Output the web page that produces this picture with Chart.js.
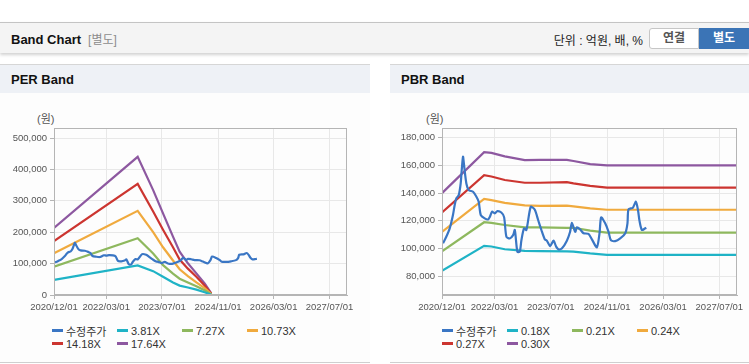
<!DOCTYPE html>
<html lang="ko">
<head>
<meta charset="UTF-8">
<title>Band Chart</title>
<script src="https://cdn.jsdelivr.net/npm/chart.js"></script>
<style>
    * { box-sizing: border-box; }
    body {
        margin: 0; width: 749px; height: 364px; overflow: hidden; background: #fff; position: relative;
        font-family: "Liberation Sans", "Noto Sans CJK KR", sans-serif; color: #333;
    }
    .topbar {
        position: absolute; left: 0; top: 22px; width: 749px; height: 31px; background: #f4f4f4;
        border-top: 1px solid #c4c4c4; box-shadow: 0 2px 3px rgba(0,0,0,0.18);
    }
    .topbar .title { position: absolute; left: 11px; top: 7px; font-weight: bold; font-size: 13px; color: #111; }
    .topbar .sub { color: #8c8c8c; font-weight: normal; font-size: 12px; margin-left: 7px; }
    .unit { position: absolute; right: 106px; top: 8px; font-size: 12px; color: #222; }
    .btn { position: absolute; top: 5px; height: 21px; width: 50px; font-size: 12px; font-weight: bold; text-align: center; line-height: 19px; }
    .btn.off { left: 649px; background: #fff; border: 1px solid #c6c6c6; color: #555; border-radius: 3px 0 0 3px; }
    .btn.on { left: 699px; background: #3b74b6; border: 1px solid #3b74b6; color: #fff; }
    .panel {
        position: absolute; top: 64px; height: 299px; background: #fdfdfd;
        border-top: 1px solid #d6d6d6; border-bottom: 1px solid #cfcfcf;
    }
    .panel .head { height: 28px; background: #eef1f6; font-weight: bold; font-size: 13px; color: #111; padding: 7px 0 0 11px; }
    .unitlabel { position: absolute; top: 45px; font-size: 11px; color: #555; }
    .chartbox { position: absolute; left: 0; top: 28px; }
    .legend {
        position: absolute; left: 52px; top: 259px; display: grid;
        grid-template-columns: 65px 65px 65px 65px; grid-auto-rows: 13px; font-size: 11px; color: #333;
    }
    .legend .item { display: flex; align-items: center; white-space: nowrap; }
    .legend .mark { width: 11px; height: 3px; margin-right: 3px; }
</style>
</head>
<body>

<div class="topbar">
    <div class="title">Band Chart<span class="sub">[별도]</span></div>
    <div class="unit">단위 : 억원, 배, %</div>
    <div class="btn off">연결</div>
    <div class="btn on">별도</div>
</div>

<div class="panel" style="left:0; width:370px;">
    <div class="head">PER Band</div>
    <div class="unitlabel" style="left:37px;">(원)</div>
    <div class="chartbox"><canvas id="perChart" width="370" height="227"></canvas></div>
    <div class="legend" id="perLegend"></div>
</div>

<div class="panel" style="left:390px; width:359px;">
    <div class="head">PBR Band</div>
    <div class="unitlabel" style="left:36px;">(원)</div>
    <div class="chartbox"><canvas id="pbrChart" width="359" height="227"></canvas></div>
    <div class="legend" id="pbrLegend"></div>
</div>

<script>
// eje x (fechas)
const xStart = '2020-12-01';
const xEnd = '2027-12-01';
const tickDates = ['2020-12-01', '2022-03-01', '2023-07-01', '2024-11-01', '2026-03-01', '2027-07-01'];
const tickLabels = ['2020/12/01', '2022/03/01', '2023/07/01', '2024/11/01', '2026/03/01', '2027/07/01'];

// 수정주가
const priceDates = ['2020-12-10','2021-01-07','2021-02-06','2021-03-06','2021-03-21','2021-04-04','2021-04-25','2021-05-12','2021-05-21','2021-06-01',
    '2021-06-10','2021-06-30','2021-07-21','2021-08-27','2021-09-25','2021-10-15','2021-11-02','2021-12-06','2022-01-04','2022-01-19',
    '2022-02-08','2022-03-03','2022-03-26','2022-04-29','2022-05-23','2022-06-12','2022-07-11','2022-08-09','2022-08-24','2022-09-15',
    '2022-10-06','2022-10-20','2022-11-12','2022-12-02','2023-01-09','2023-02-13','2023-03-14','2023-04-11','2023-05-11','2023-05-28',
    '2023-06-26','2023-07-25','2023-08-17','2023-09-06','2023-10-05','2023-11-18','2023-12-16','2023-12-31','2024-01-29','2024-02-13',
    '2024-03-12','2024-04-10','2024-05-23','2024-06-22','2024-08-04','2024-08-27','2024-09-10','2024-10-15','2024-11-13','2024-12-03',
    '2025-01-10','2025-02-22','2025-04-07','2025-04-26','2025-05-05','2025-06-12','2025-07-08','2025-07-26','2025-08-09','2025-08-29',
    '2025-09-27','2025-10-06'];
const priceValues = [103800,108500,114600,124200,131400,136200,138600,147100,156700,166300,
    160300,147000,142200,141000,137400,133800,124200,121800,121000,122700,
    126600,125400,127000,126000,122700,108500,107300,109700,113400,97700,
    97700,106000,114600,113400,130200,128000,120600,113400,106600,105700,
    101800,105700,101400,99400,100000,105700,112100,118600,112100,115300,
    113800,111100,110600,106600,100900,111100,122500,118200,112100,106100,
    105400,107300,111100,118200,128300,129500,133800,127800,119600,113400,
    114600,115000];

// PER 밴드
const perBandDates = ['2020-12-01','2022-12-01','2023-04-15','2023-07-10','2023-10-05','2023-12-02','2024-02-12','2024-04-26','2024-07-07','2024-09-03'];
const per381 = [48000, 94000, 76000, 58000, 40000, 30000, 24000, 17000, 9000, 1000];
const per727 = [90000, 181000, 132000, 95000, 68000, 52000, 40000, 28000, 15000, 2000];
const per1073 = [133000, 268000, 200000, 152000, 110000, 82000, 60000, 40000, 22000, 3000];
const per1418 = [172000, 354000, 266000, 208000, 152000, 113000, 84000, 58000, 30000, 4000];
const per1764 = [214000, 440000, 334000, 260000, 186000, 138000, 101000, 69000, 37000, 5000];
const perLabels = ['수정주가', '3.81X', '7.27X', '10.73X', '14.18X', '17.64X'];
const perYTicks = [0, 100000, 200000, 300000, 400000, 500000];

// PBR 밴드
const pbrBandDates = ['2020-12-01','2021-12-01','2022-02-02','2022-05-29','2022-11-18','2023-03-31','2023-11-18','2024-01-14','2024-06-07','2024-10-30','2027-12-01'];
const pbr018 = [84000, 102000, 101500, 99500, 98300, 98200, 98000, 97800, 96500, 95500, 95500];
const pbr021 = [98000, 119000, 118500, 117000, 115300, 115300, 115000, 115000, 113000, 111500, 111500];
const pbr024 = [112000, 135800, 135000, 133000, 131200, 130800, 131000, 130500, 129000, 128000, 128000];
const pbr027 = [126000, 153000, 152000, 149500, 147500, 147500, 148000, 147000, 145200, 144000, 144000];
const pbr030 = [140000, 169500, 169000, 166500, 163800, 164000, 164000, 163200, 161000, 160000, 160000];
const pbrLabels = ['수정주가', '0.18X', '0.21X', '0.24X', '0.27X', '0.30X'];
const pbrYTicks = [80000, 100000, 120000, 140000, 160000, 180000];

const colores = ['#3a76c4', '#1fb3c6', '#8eb85e', '#f0aa3e', '#cc3530', '#8d58a0'];

function toDay(s) { return Date.parse(s) / 86400000; }
function puntos(fechas, valores) { return fechas.map((f, i) => ({ x: toDay(f), y: valores[i] })); }

// marco alrededor del area del grafico
const marco = {
    id: 'marco',
    afterDatasetsDraw(chart) {
        const a = chart.chartArea, c = chart.ctx;
        c.save();
        c.strokeStyle = '#b5b5b5';
        c.lineWidth = 1;
        c.strokeRect(Math.round(a.left) + 0.5, Math.round(a.top) + 0.5, Math.round(a.right - a.left) - 1, Math.round(a.bottom - a.top) - 1);
        c.restore();
    }
};

function crearGrafico(id, series, etiquetas, yMin, yMax, yTicks, yWidth, padRight) {
    const datasets = series.map((s, i) => ({
        label: etiquetas[i],
        data: s,
        borderColor: colores[i],
        backgroundColor: colores[i],
        borderWidth: i === 0 ? 2.2 : 2.2,
        tension: i === 0 ? 0.25 : 0,
        pointRadius: 0,
        fill: false
    }));
    return new Chart(document.getElementById(id), {
        type: 'line',
        data: { datasets: datasets },
        options: {
            responsive: false,
            animation: false,
            layout: { padding: { top: 35, right: padRight, left: 0, bottom: 0 } },
            plugins: { legend: { display: false }, tooltip: { enabled: false } },
            scales: {
                x: {
                    type: 'linear', min: toDay(xStart), max: toDay(xEnd),
                    afterBuildTicks: s => { s.ticks = tickDates.map(d => ({ value: toDay(d) })); },
                    afterFit: s => { s.height = 25; },
                    ticks: { callback: (v, i) => tickLabels[i], color: '#555', font: { size: 9.5, family: 'Liberation Sans' }, maxRotation: 0, autoSkip: false, padding: 3 },
                    grid: { color: '#e8e8e8', tickLength: 4, tickColor: '#b5b5b5' },
                    border: { color: '#b5b5b5' }
                },
                y: {
                    min: yMin, max: yMax,
                    afterBuildTicks: s => { s.ticks = yTicks.map(v => ({ value: v })); },
                    afterFit: s => { s.width = yWidth; },
                    ticks: { callback: v => v.toLocaleString('en-US'), color: '#555', font: { size: 9.5, family: 'Liberation Sans' }, padding: 3 },
                    grid: { color: '#e8e8e8', tickLength: 4, tickColor: '#b5b5b5' },
                    border: { color: '#b5b5b5' }
                }
            }
        },
        plugins: [marco]
    });
}

function crearLeyenda(chart, id) {
    const cont = document.getElementById(id);
    chart.data.datasets.forEach(ds => {
        const item = document.createElement('div');
        item.className = 'item';
        const mark = document.createElement('span');
        mark.className = 'mark';
        mark.style.background = ds.borderColor;
        item.appendChild(mark);
        item.appendChild(document.createTextNode(ds.label));
        cont.appendChild(item);
    });
}

const perChart = crearGrafico('perChart', [
    puntos(priceDates, priceValues),
    puntos(perBandDates, per381),
    puntos(perBandDates, per727),
    puntos(perBandDates, per1073),
    puntos(perBandDates, per1418),
    puntos(perBandDates, per1764)
], perLabels, 0, 532000, perYTicks, 54, 23);

const pbrChart = crearGrafico('pbrChart', [
    puntos(priceDates, priceValues),
    puntos(pbrBandDates, pbr018),
    puntos(pbrBandDates, pbr021),
    puntos(pbrBandDates, pbr024),
    puntos(pbrBandDates, pbr027),
    puntos(pbrBandDates, pbr030)
], pbrLabels, 66500, 187000, pbrYTicks, 52, 12);

crearLeyenda(perChart, 'perLegend');
crearLeyenda(pbrChart, 'pbrLegend');
</script>
</body>
</html>
